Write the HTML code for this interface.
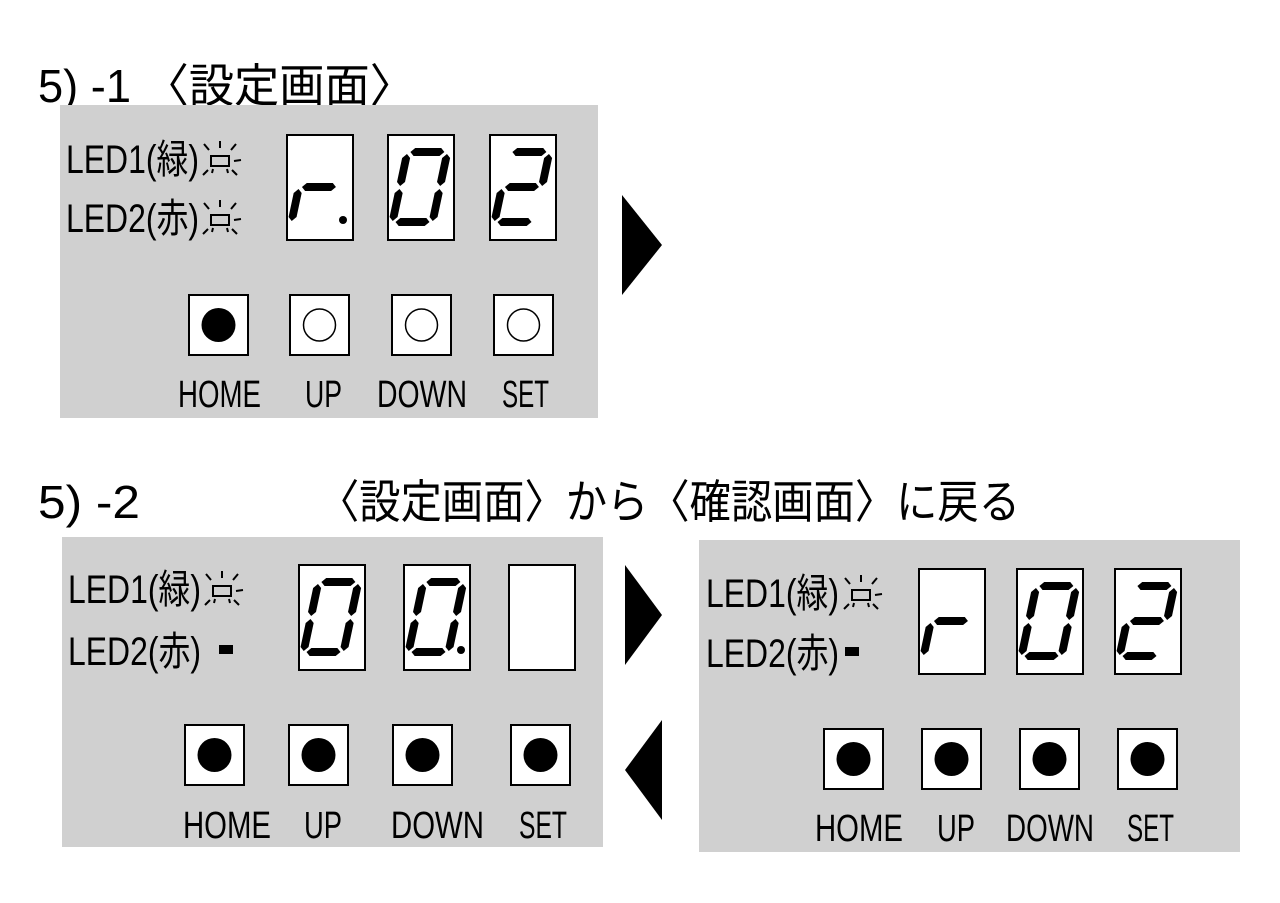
<!DOCTYPE html>
<html><head><meta charset="utf-8"><style>html,body{margin:0;padding:0;background:#fff}svg{display:block}
text{font-family:"Liberation Sans","Noto Sans CJK JP",sans-serif;fill:#000}</style></head><body>
<svg width="1280" height="903" viewBox="0 0 1280 903" xmlns="http://www.w3.org/2000/svg">
<defs>
<g id="sa"><polygon points="20,17 24,13 50,13 54,17 50,21 24,21"/></g>
<g id="sg"><polygon points="20,52 24,48 50,48 54,52 50,56 24,56"/></g>
<g id="sd"><polygon points="20,87 24,83 50,83 54,87 50,91 24,91"/></g>
<g id="sf"><polygon points="17,19 21,23 21,47 17,51 13,47 13,23"/></g>
<g id="se"><polygon points="17,54 21,58 21,82 17,86 13,82 13,58"/></g>
<g id="sb"><polygon points="57,19 61,23 61,47 57,51 53,47 53,23"/></g>
<g id="sc"><polygon points="57,54 61,58 61,82 57,86 53,82 53,58"/></g>
<g id="d0"><rect x="0" y="0" width="66" height="105" fill="#fff" stroke="#000" stroke-width="2"/><g transform="translate(6,0) skewX(-12)"><use href="#sa"/><use href="#sb"/><use href="#sc"/><use href="#sd"/><use href="#se"/><use href="#sf"/></g></g>
<g id="d2"><rect x="0" y="0" width="66" height="105" fill="#fff" stroke="#000" stroke-width="2"/><g transform="translate(6,0) skewX(-12)"><use href="#sa"/><use href="#sb"/><use href="#sg"/><use href="#se"/><use href="#sd"/></g></g>
<g id="dr"><rect x="0" y="0" width="66" height="105" fill="#fff" stroke="#000" stroke-width="2"/><g transform="translate(6,0) skewX(-12)"><use href="#sg"/><use href="#se"/></g></g>
<g id="bf"><rect x="0" y="0" width="59" height="60" fill="#fff" stroke="#000" stroke-width="2"/><circle cx="29.5" cy="30" r="17"/></g>
<g id="bo"><rect x="0" y="0" width="59" height="60" fill="#fff" stroke="#000" stroke-width="2"/><circle cx="29.5" cy="30" r="16" fill="#fff" stroke="#000" stroke-width="1.5"/></g>
<g id="blink" stroke="#000" stroke-width="2" fill="none"><rect x="11" y="-19" width="18" height="10"/><line x1="4" y1="-31" x2="9" y2="-25"/><line x1="20" y1="-34" x2="20" y2="-27"/><line x1="36" y1="-31" x2="31" y2="-25"/><line x1="3" y1="0" x2="8" y2="-5"/><line x1="37" y1="0" x2="32" y2="-5"/><line x1="41" y1="-15" x2="34" y2="-14"/><line x1="12" y1="-2" x2="13" y2="-6"/><line x1="28" y1="-2" x2="27" y2="-6"/></g>
</defs>

<text x="38" y="102" font-size="46" textLength="377" lengthAdjust="spacingAndGlyphs">5) -1 〈設定画面〉</text>

<!-- Panel 1 -->
<rect x="60" y="105" width="538" height="313" fill="#d0d0d0"/>
<text x="66" y="173" font-size="40" textLength="133" lengthAdjust="spacingAndGlyphs">LED1(緑)</text>
<use href="#blink" x="200" y="175"/>
<text x="66" y="232" font-size="40" textLength="133" lengthAdjust="spacingAndGlyphs">LED2(赤)</text>
<use href="#blink" x="200" y="234"/>
<use href="#dr" x="287" y="135"/><circle cx="343" cy="220" r="4"/>
<use href="#d0" x="388" y="135"/>
<use href="#d2" x="490" y="135"/>
<use href="#bf" x="189" y="295"/><use href="#bo" x="290" y="295"/><use href="#bo" x="392" y="295"/><use href="#bo" x="494" y="295"/>
<text x="178" y="407" font-size="38" textLength="83" lengthAdjust="spacingAndGlyphs">HOME</text>
<text x="305" y="407" font-size="38" textLength="37" lengthAdjust="spacingAndGlyphs">UP</text>
<text x="377" y="407" font-size="38" textLength="90" lengthAdjust="spacingAndGlyphs">DOWN</text>
<text x="502" y="407" font-size="38" textLength="47" lengthAdjust="spacingAndGlyphs">SET</text>

<polygon points="622,195 662,245 622,295"/>

<text x="38" y="518" font-size="46" textLength="102" lengthAdjust="spacingAndGlyphs">5) -2</text>
<text x="318" y="518" font-size="46" textLength="702" lengthAdjust="spacingAndGlyphs">〈設定画面〉から〈確認画面〉に戻る</text>

<!-- Panel 2 -->
<rect x="62" y="537" width="541" height="310" fill="#d0d0d0"/>
<text x="68" y="603" font-size="40" textLength="133" lengthAdjust="spacingAndGlyphs">LED1(緑)</text>
<use href="#blink" x="202" y="605"/>
<text x="68" y="665" font-size="40" textLength="133" lengthAdjust="spacingAndGlyphs">LED2(赤)</text>
<rect x="219" y="645" width="14" height="9"/>
<use href="#d0" x="299" y="565"/>
<use href="#d0" x="404" y="565"/><circle cx="461" cy="650" r="4"/>
<rect x="509" y="565" width="66" height="105" fill="#fff" stroke="#000" stroke-width="2"/>
<use href="#bf" x="185" y="725"/><use href="#bf" x="289" y="725"/><use href="#bf" x="393" y="725"/><use href="#bf" x="511" y="725"/>
<text x="183" y="838" font-size="38" textLength="88" lengthAdjust="spacingAndGlyphs">HOME</text>
<text x="304" y="838" font-size="38" textLength="38" lengthAdjust="spacingAndGlyphs">UP</text>
<text x="391" y="838" font-size="38" textLength="93" lengthAdjust="spacingAndGlyphs">DOWN</text>
<text x="519" y="838" font-size="38" textLength="48" lengthAdjust="spacingAndGlyphs">SET</text>

<polygon points="625,565 662,615 625,665"/>
<polygon points="662,720 625,770 662,820"/>

<!-- Panel 3 -->
<rect x="699" y="540" width="541" height="312" fill="#d0d0d0"/>
<text x="706" y="607" font-size="40" textLength="133" lengthAdjust="spacingAndGlyphs">LED1(緑)</text>
<use href="#blink" x="841" y="609"/>
<text x="706" y="667" font-size="40" textLength="133" lengthAdjust="spacingAndGlyphs">LED2(赤)</text>
<rect x="845" y="647" width="14" height="9"/>
<use href="#dr" x="919" y="569"/>
<use href="#d0" x="1017" y="569"/>
<use href="#d2" x="1115" y="569"/>
<use href="#bf" x="824" y="729"/><use href="#bf" x="922" y="729"/><use href="#bf" x="1020" y="729"/><use href="#bf" x="1118" y="729"/>
<text x="815" y="841" font-size="38" textLength="88" lengthAdjust="spacingAndGlyphs">HOME</text>
<text x="937" y="841" font-size="38" textLength="38" lengthAdjust="spacingAndGlyphs">UP</text>
<text x="1006" y="841" font-size="38" textLength="88" lengthAdjust="spacingAndGlyphs">DOWN</text>
<text x="1127" y="841" font-size="38" textLength="47" lengthAdjust="spacingAndGlyphs">SET</text>
</svg>
</body></html>
